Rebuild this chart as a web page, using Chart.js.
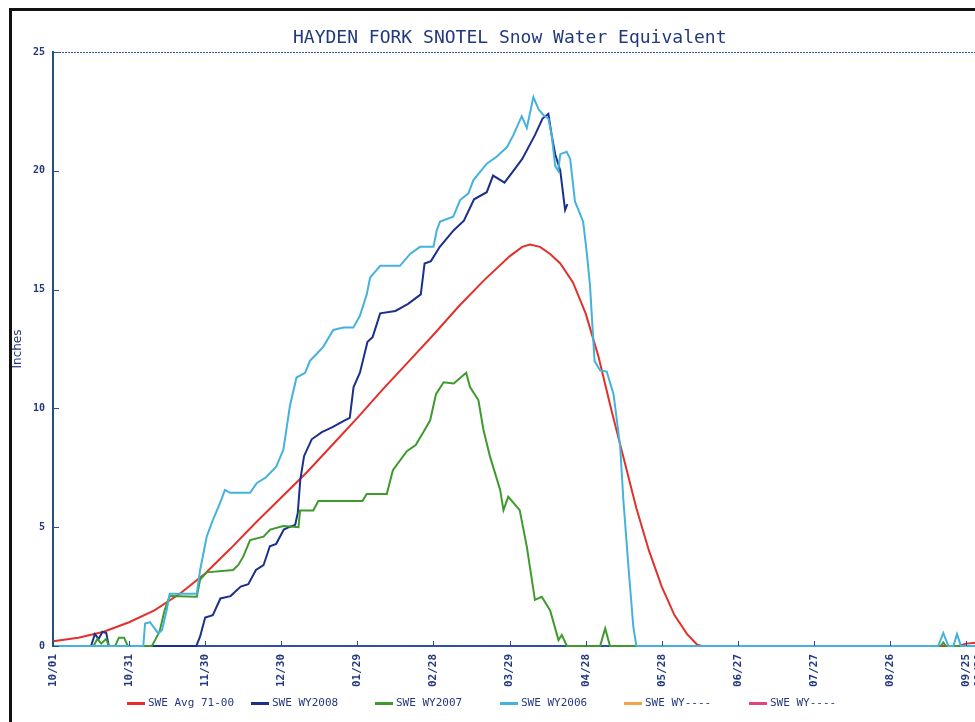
<!DOCTYPE html>
<html>
<head>
<meta charset="utf-8">
<script src="https://cdn.jsdelivr.net/npm/chart.js@4.4.1/dist/chart.umd.min.js"></script>
<style>
  html, body { margin: 0; padding: 0; background: #fff; overflow: hidden; }
  #page { position: relative; width: 975px; height: 722px; overflow: hidden; }
  #frame { position: absolute; left: 9px; top: 8px; width: 1000px; height: 800px;
           border-top: 3px solid #111; border-left: 3px solid #111; }
  #title { position: absolute; left: 293px; top: 26px; font: 18px 'DejaVu Sans Mono', monospace;
           color: #23397e; white-space: nowrap; }
  #chart-box { position: absolute; left: 0; top: 0; }
  .lg-sw { position: absolute; top: 702px; width: 18px; height: 3px; }
  .lg-tx { position: absolute; top: 696px; font: 11px 'DejaVu Sans Mono', monospace; color: #23397e; white-space: nowrap; }
</style>
</head>
<body>
<div id="page">
  <div id="chart-box"><canvas id="swe" width="1000" height="722"></canvas></div>
  <div id="frame"></div>
  <div id="title">HAYDEN FORK SNOTEL Snow Water Equivalent</div>
  <div id="legend"></div>
</div>
<script>
// x axis: day of water year (day 0 = 10/01)
const tickDays = [0, 30, 60, 90, 120, 150, 180, 210, 240, 270, 300, 330, 360, 365];
const tickLabels = ['10/01', '10/31', '11/30', '12/30', '01/29', '02/28', '03/29',
  '04/28', '05/28', '06/27', '07/27', '08/26', '09/25', '09/30'];

// series: [day, inches]
const sweAvg = [[0, 0.2], [10, 0.35], [20, 0.6], [30, 1.0], [40, 1.5], [50, 2.2], [60, 3.05],
  [70, 4.1], [80, 5.2], [90, 6.25], [100, 7.3], [110, 8.45], [120, 9.6], [130, 10.8],
  [140, 11.95], [150, 13.1], [160, 14.3], [170, 15.4], [180, 16.4], [185, 16.8], [188, 16.9],
  [192, 16.8], [196, 16.5], [200, 16.1], [205, 15.3], [210, 14.0], [215, 12.2], [220, 10.0],
  [225, 7.9], [230, 5.8], [235, 4.0], [240, 2.5], [245, 1.3], [250, 0.5], [254, 0.05],
  [256, 0], [357, 0], [360, 0.1], [365, 0.15]];

const swe2008 = [[0, 0], [15, 0], [16.5, 0.5], [18, 0.3], [19.5, 0.6], [21, 0.55], [22, 0],
  [56.5, 0], [58, 0.4], [60, 1.2], [63, 1.3], [66, 2.0], [70, 2.1], [74, 2.5], [77, 2.6],
  [80, 3.2], [83, 3.4], [85.5, 4.2], [88, 4.3], [91, 4.9], [93, 5.0], [95.5, 5.1], [96.5, 5.6],
  [97.5, 7.0], [99, 8.0], [102, 8.7], [106, 9.0], [110, 9.2], [115, 9.5], [117, 9.6],
  [118.5, 10.9], [121, 11.5], [124, 12.8], [126, 13.0], [129, 14.0], [135, 14.1], [140, 14.4],
  [145, 14.8], [146.5, 16.1], [149, 16.2], [152.5, 16.8], [158, 17.5], [162, 17.9], [166, 18.8],
  [171, 19.1], [173.5, 19.8], [178, 19.5], [181.5, 20.0], [185, 20.5], [190, 21.5], [193, 22.2],
  [195.3, 22.4], [196.6, 21.5], [198, 20.7], [200, 20.0], [201.9, 18.35], [202.8, 18.6]];

const swe2007 = [[0, 0], [16, 0], [17.5, 0.3], [19, 0.1], [21, 0.3], [22, 0], [24.5, 0],
  [26, 0.35], [28, 0.35], [29.5, 0], [39, 0], [40.5, 0.3], [42, 0.6], [44, 1.5], [46, 2.1],
  [56.7, 2.07], [58, 2.8], [60.6, 3.1], [71, 3.2], [73, 3.4], [75, 3.76], [77.7, 4.46], [83, 4.6],
  [85.6, 4.9], [90.8, 5.05], [96.8, 5.0], [97.4, 5.7], [102.6, 5.7], [104.6, 6.1], [122, 6.1],
  [123.7, 6.4], [131.6, 6.4], [134, 7.4], [139.5, 8.2], [143, 8.46], [146, 9.0], [148.7, 9.5],
  [151, 10.6], [154, 11.1], [158, 11.05], [162.9, 11.5], [164.4, 10.9], [167.7, 10.35],
  [169.7, 9.1], [172.3, 7.97], [176.3, 6.57], [177.6, 5.72], [179.5, 6.28], [184, 5.72],
  [186.8, 4.18], [190, 1.94], [192.7, 2.07], [196, 1.5], [199.3, 0.25], [200.6, 0.46],
  [202.6, 0], [215.7, 0], [217.7, 0.74], [219.6, 0], [350, 0], [351, 0.15], [352, 0], [365, 0]];

const swe2006 = [[0, 0], [35.6, 0], [36.3, 0.95], [38.2, 1.0], [40, 0.75], [41.5, 0.53],
  [43, 0.67], [44.8, 1.5], [46, 2.2], [56.7, 2.2], [58, 3.2], [60.6, 4.6], [63, 5.3],
  [65.8, 6.0], [67.8, 6.57], [69.8, 6.45], [77.7, 6.45], [80.3, 6.85], [84, 7.1], [88, 7.55],
  [90.8, 8.25], [92, 9.1], [93.4, 10.1], [96, 11.3], [99.4, 11.5], [101.3, 12.0], [104, 12.3],
  [106.6, 12.6], [110.5, 13.3], [114.5, 13.4], [118.4, 13.4], [121, 13.9], [123.7, 14.8],
  [125, 15.5], [129, 16.0], [136.8, 16.0], [140.8, 16.5], [144.7, 16.8], [150, 16.8],
  [151.3, 17.5], [152.6, 17.86], [157.8, 18.07], [160.5, 18.77], [163.8, 19.05], [165.7, 19.6],
  [171, 20.3], [175, 20.6], [179, 21.0], [181.5, 21.5], [184.8, 22.3], [186.8, 21.8],
  [189.4, 23.1], [191.4, 22.6], [193.3, 22.35], [195.3, 22.2], [196.6, 21.5], [198, 20.2],
  [199.2, 20.0], [200, 20.7], [202.5, 20.8], [203.9, 20.5], [205.8, 18.7], [207, 18.4],
  [209, 17.86], [210.4, 16.6], [211.7, 15.2], [213.5, 12.0], [215.7, 11.6], [218.3, 11.55],
  [221, 10.6], [223.6, 8.4], [224.9, 6.1], [226.9, 3.3], [228.8, 0.8], [230, 0], [349, 0],
  [351, 0.55], [353, 0], [355, 0], [356.4, 0.5], [358, 0], [365, 0]];

const seriesNames = ['SWE Avg 71-00', 'SWE WY2008', 'SWE WY2007', 'SWE WY2006', 'SWE WY----', 'SWE WY----'];
const seriesColors = ['#e2302b', '#1b2f8c', '#3e9a2c', '#44b2dc', '#f5a04a', '#e4417e'];

const navy = '#23397e';
const monoFont = "'DejaVu Sans Mono', monospace";

const toPoints = (rows) => rows.map(r => ({ x: r[0], y: r[1] }));

// tick marks drawn inside the plot + dotted top edge
const innerTicks = {
  id: 'innerTicks',
  afterDraw(chart) {
    const { ctx, chartArea, scales: { x, y } } = chart;
    ctx.save();
    ctx.strokeStyle = '#2a4aa0';
    ctx.lineWidth = 1;
    x.ticks.forEach(t => {
      const px = Math.round(x.getPixelForValue(t.value)) + 0.5;
      ctx.beginPath();
      ctx.moveTo(px, chartArea.bottom);
      ctx.lineTo(px, chartArea.bottom - 5);
      ctx.stroke();
    });
    y.ticks.forEach(t => {
      const py = Math.round(y.getPixelForValue(t.value)) + 0.5;
      ctx.beginPath();
      ctx.moveTo(chartArea.left, py);
      ctx.lineTo(chartArea.left + 6, py);
      ctx.stroke();
    });
    ctx.setLineDash([2, 1]);
    ctx.strokeStyle = '#3552a8';
    ctx.beginPath();
    ctx.moveTo(chartArea.left, chartArea.top + 0.5);
    ctx.lineTo(chartArea.right, chartArea.top + 0.5);
    ctx.stroke();
    ctx.restore();
  }
};

const makeSet = (rows, idx, order) => ({
  label: seriesNames[idx],
  data: toPoints(rows),
  borderColor: seriesColors[idx],
  backgroundColor: seriesColors[idx],
  borderWidth: 2,
  pointRadius: 0,
  tension: 0,
  clip: 4,
  order: order
});

const chart = new Chart(document.getElementById('swe'), {
  type: 'line',
  data: {
    datasets: [
      makeSet(sweAvg, 0, 3),
      makeSet(swe2008, 1, 2),
      makeSet(swe2007, 2, 1),
      makeSet(swe2006, 3, 0)
    ]
  },
  options: {
    responsive: false,
    animation: false,
    layout: { padding: { top: 52, right: 11, left: 0, bottom: 0 } },
    plugins: {
      legend: { display: false },
      title: { display: false },
      tooltip: { enabled: false }
    },
    scales: {
      x: {
        type: 'linear',
        min: 0,
        max: 365,
        afterBuildTicks: (s) => { s.ticks = tickDays.map(v => ({ value: v })); },
        afterFit: (s) => { s.height = 76; },
        grid: { display: false, drawTicks: false },
        border: { color: '#2f4fa8', width: 2 },
        ticks: {
          autoSkip: false,
          minRotation: 90,
          maxRotation: 90,
          padding: 8,
          color: navy,
          font: { family: monoFont, size: 11, weight: 'bold' },
          callback: (v, i) => tickLabels[i]
        }
      },
      y: {
        min: 0,
        max: 25,
        afterFit: (s) => { s.width = 53; },
        grid: { display: false, drawTicks: false },
        border: { color: '#1d5676', width: 2 },
        ticks: {
          stepSize: 5,
          padding: 8,
          color: navy,
          font: { family: monoFont, size: 10, weight: 'bold' }
        },
        title: {
          display: true,
          text: 'Inches',
          color: navy,
          padding: { top: 11, bottom: 0 },
          font: { family: "'DejaVu Sans', sans-serif", size: 12 }
        }
      }
    }
  },
  plugins: [innerTicks]
});

// legend
const swatchLeft = [127, 251, 375, 500, 624, 749];
const legend = document.getElementById('legend');
seriesNames.forEach((name, i) => {
  const sw = document.createElement('div');
  sw.className = 'lg-sw';
  sw.style.left = swatchLeft[i] + 'px';
  sw.style.background = seriesColors[i];
  legend.appendChild(sw);
  const tx = document.createElement('div');
  tx.className = 'lg-tx';
  tx.style.left = (swatchLeft[i] + 21) + 'px';
  tx.textContent = name;
  legend.appendChild(tx);
});
</script>
</body>
</html>
